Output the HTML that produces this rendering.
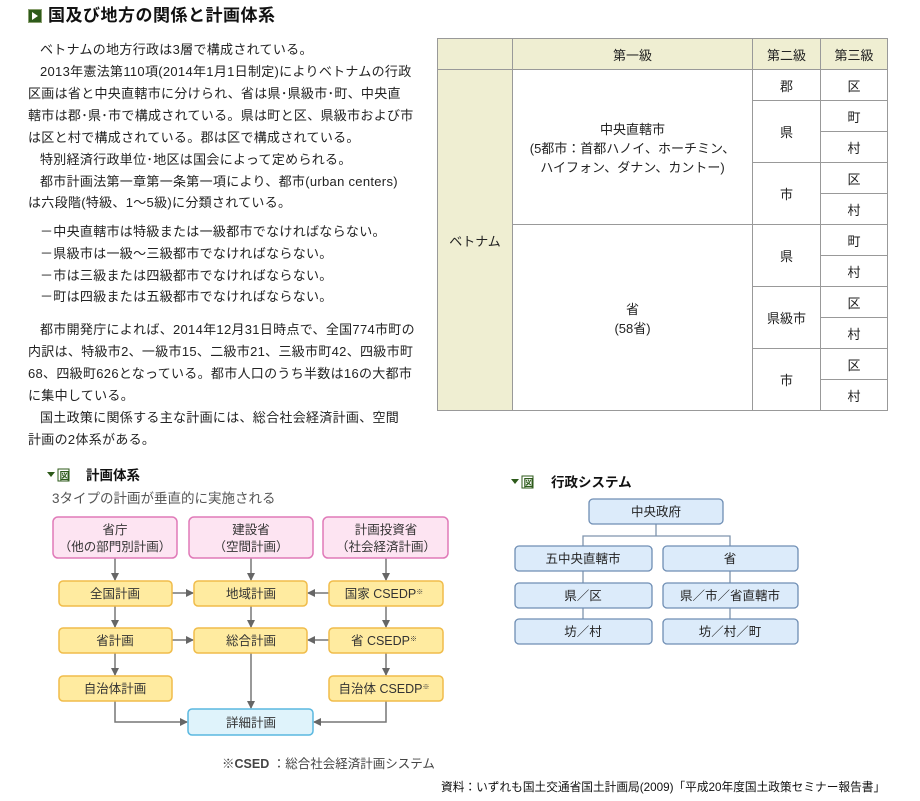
<!DOCTYPE html>
<html><head><meta charset="utf-8"><style>
body{margin:0;width:920px;height:801px;background:#fff;position:relative;overflow:hidden;font-family:"Liberation Sans","Noto Sans CJK JP",sans-serif;color:#222}
.l{position:absolute;white-space:nowrap;font-size:13px;line-height:16px;letter-spacing:0.3px}
table{position:absolute;left:437px;top:38px;border-collapse:collapse;font-size:13px}
td{border:1px solid #999;text-align:center;padding:0;height:30px}
.h{background:#efeed2}
</style></head><body>
<div style="position:absolute;left:28px;top:9px;width:14px;height:14px;background:#2d5a1a;border:1px solid #8aa070;box-sizing:border-box"></div>
<div style="position:absolute;left:32px;top:12px;width:0;height:0;border-left:6px solid #fff;border-top:4px solid transparent;border-bottom:4px solid transparent"></div>
<div class="l" style="left:48px;top:6px;font-size:17px;line-height:20px;font-weight:bold;color:#111;letter-spacing:0.5px">国及び地方の関係と計画体系</div>

<div class="l" style="left:40px;top:42px">ベトナムの地方行政は3層で構成されている。</div>
<div class="l" style="left:40px;top:64px">2013年憲法第110項(2014年1月1日制定)によりベトナムの行政</div>
<div class="l" style="left:28px;top:86px">区画は省と中央直轄市に分けられ、省は県･県級市･町、中央直</div>
<div class="l" style="left:28px;top:108px">轄市は郡･県･市で構成されている。県は町と区、県級市および市</div>
<div class="l" style="left:28px;top:130px">は区と村で構成されている。郡は区で構成されている。</div>
<div class="l" style="left:40px;top:152px">特別経済行政単位･地区は国会によって定められる。</div>
<div class="l" style="left:40px;top:174px">都市計画法第一章第一条第一項により、都市(urban centers)</div>
<div class="l" style="left:28px;top:195px">は六段階(特級、1～5級)に分類されている。</div>
<div class="l" style="left:40px;top:224px">－中央直轄市は特級または一級都市でなければならない。</div>
<div class="l" style="left:40px;top:246px">－県級市は一級～三級都市でなければならない。</div>
<div class="l" style="left:40px;top:268px">－市は三級または四級都市でなければならない。</div>
<div class="l" style="left:40px;top:289px">－町は四級または五級都市でなければならない。</div>
<div class="l" style="left:40px;top:322px">都市開発庁によれば、2014年12月31日時点で、全国774市町の</div>
<div class="l" style="left:28px;top:344px">内訳は、特級市2、一級市15、二級市21、三級市町42、四級市町</div>
<div class="l" style="left:28px;top:366px">68、四級町626となっている。都市人口のうち半数は16の大都市</div>
<div class="l" style="left:28px;top:388px">に集中している。</div>
<div class="l" style="left:40px;top:410px">国土政策に関係する主な計画には、総合社会経済計画、空間</div>
<div class="l" style="left:28px;top:432px">計画の2体系がある。</div>

<table>
<tr style="height:30px"><td class="h" style="width:74px"></td><td class="h" style="width:239px">第一級</td><td class="h" style="width:67px">第二級</td><td class="h" style="width:66px">第三級</td></tr>
<tr><td class="h" rowspan="11" style="border-top:none">ベトナム</td><td rowspan="5">中央直轄市<br>(5都市：首都ハノイ、ホーチミン、<br>ハイフォン、ダナン、カントー)</td><td>郡</td><td>区</td></tr>
<tr><td rowspan="2">県</td><td>町</td></tr>
<tr><td>村</td></tr>
<tr><td rowspan="2">市</td><td>区</td></tr>
<tr><td>村</td></tr>
<tr><td rowspan="6">省<br>(58省)</td><td rowspan="2">県</td><td>町</td></tr>
<tr><td>村</td></tr>
<tr><td rowspan="2">県級市</td><td>区</td></tr>
<tr><td>村</td></tr>
<tr><td rowspan="2">市</td><td>区</td></tr>
<tr><td>村</td></tr>
</table>

<svg width="920" height="801" style="position:absolute;left:0;top:0" font-family="Liberation Sans, Noto Sans CJK JP, sans-serif">
<defs><marker id="a" markerWidth="8" markerHeight="8" refX="7" refY="4" orient="auto" markerUnits="userSpaceOnUse"><path d="M0,0 L8,4 L0,8z" fill="#666"/></marker></defs>
<path d="M47,472 h8 l-4,5z" fill="#2d5a1a"/>
<rect x="58" y="469" width="11" height="12" fill="#fff" stroke="#2d5a1a"/>
<text x="59.5" y="479.5" font-size="10" fill="#2d5a1a" font-weight="bold">図</text>
<text x="86" y="480" font-size="13.5" font-weight="bold" fill="#111">計画体系</text>
<text x="52" y="503" font-size="13.5" fill="#555">3タイプの計画が垂直的に実施される</text>

<path d="M511,479 h8 l-4,5z" fill="#2d5a1a"/>
<rect x="522" y="476" width="11" height="12" fill="#fff" stroke="#2d5a1a"/>
<text x="523.5" y="486.5" font-size="10" fill="#2d5a1a" font-weight="bold">図</text>
<text x="551" y="487" font-size="13.5" font-weight="bold" fill="#111">行政システム</text>

<g stroke="#777" stroke-width="1.5" fill="none" marker-end="url(#a)">
<line x1="115" y1="558" x2="115" y2="580"/><line x1="251" y1="558" x2="251" y2="580"/><line x1="386" y1="558" x2="386" y2="580"/>
<line x1="115" y1="606" x2="115" y2="627"/><line x1="251" y1="606" x2="251" y2="627"/><line x1="386" y1="606" x2="386" y2="627"/>
<line x1="115" y1="653" x2="115" y2="675"/><line x1="251" y1="653" x2="251" y2="708"/><line x1="386" y1="653" x2="386" y2="675"/>
<line x1="172" y1="593" x2="193" y2="593"/><line x1="329" y1="593" x2="308" y2="593"/>
<line x1="172" y1="640" x2="193" y2="640"/><line x1="329" y1="640" x2="308" y2="640"/>
<polyline points="115,701 115,722 187,722"/><polyline points="386,701 386,722 314,722"/>
</g>
<g font-size="12.5" text-anchor="middle" fill="#333">
<rect x="53" y="517" width="124" height="41" rx="5" fill="#fde4f2" stroke="#e07ab8" stroke-width="1.5"/>
<rect x="189" y="517" width="124" height="41" rx="5" fill="#fde4f2" stroke="#e07ab8" stroke-width="1.5"/>
<rect x="323" y="517" width="125" height="41" rx="5" fill="#fde4f2" stroke="#e07ab8" stroke-width="1.5"/>
<text x="115" y="534">省庁</text><text x="115" y="551">（他の部門別計画）</text>
<text x="251" y="534">建設省</text><text x="251" y="551">（空間計画）</text>
<text x="386" y="534">計画投資省</text><text x="386" y="551">（社会経済計画）</text>
<g fill="#ffeba0" stroke="#f0bc4a" stroke-width="1.5">
<rect x="59" y="581" width="113" height="25" rx="4"/><rect x="194" y="581" width="113" height="25" rx="4"/><rect x="329" y="581" width="114" height="25" rx="4"/>
<rect x="59" y="628" width="113" height="25" rx="4"/><rect x="194" y="628" width="113" height="25" rx="4"/><rect x="329" y="628" width="114" height="25" rx="4"/>
<rect x="59" y="676" width="113" height="25" rx="4"/><rect x="329" y="676" width="114" height="25" rx="4"/>
</g>
<rect x="188" y="709" width="125" height="26" rx="4" fill="#dff3fb" stroke="#5ab8e0" stroke-width="1.5"/>
<text x="115" y="598">全国計画</text><text x="251" y="598">地域計画</text><text x="384" y="598">国家 CSEDP<tspan font-size="7" dy="-4">※</tspan></text>
<text x="115" y="645">省計画</text><text x="251" y="645">総合計画</text><text x="384" y="645">省 CSEDP<tspan font-size="7" dy="-4">※</tspan></text>
<text x="115" y="693">自治体計画</text><text x="384" y="693">自治体 CSEDP<tspan font-size="7" dy="-4">※</tspan></text>
<text x="251" y="727">詳細計画</text>
</g>
<text x="222" y="768" font-size="12.5" fill="#444"><tspan font-weight="bold">※CSED</tspan> ：総合社会経済計画システム</text>
<text x="441" y="791" font-size="11.7" fill="#111">資料：いずれも国土交通省国土計画局(2009)「平成20年度国土政策セミナー報告書」</text>

<g stroke="#7f95ad" stroke-width="1.3" fill="none">
<line x1="656" y1="524" x2="656" y2="536"/><polyline points="583,546 583,536 730,536 730,546"/>
<line x1="583" y1="571" x2="583" y2="583"/><line x1="583" y1="608" x2="583" y2="619"/>
<line x1="730" y1="571" x2="730" y2="583"/><line x1="730" y1="608" x2="730" y2="619"/>
</g>
<g fill="#dcebfa" stroke="#6f8eb4" stroke-width="1.3">
<rect x="589" y="499" width="134" height="25" rx="4"/>
<rect x="515" y="546" width="137" height="25" rx="4"/><rect x="663" y="546" width="135" height="25" rx="4"/>
<rect x="515" y="583" width="137" height="25" rx="4"/><rect x="663" y="583" width="135" height="25" rx="4"/>
<rect x="515" y="619" width="137" height="25" rx="4"/><rect x="663" y="619" width="135" height="25" rx="4"/>
</g>
<g font-size="12.5" text-anchor="middle" fill="#222">
<text x="656" y="516">中央政府</text>
<text x="583" y="563">五中央直轄市</text><text x="730" y="563">省</text>
<text x="583" y="600">県／区</text><text x="730" y="600">県／市／省直轄市</text>
<text x="583" y="636">坊／村</text><text x="730" y="636">坊／村／町</text>
</g>
</svg>
</body></html>
